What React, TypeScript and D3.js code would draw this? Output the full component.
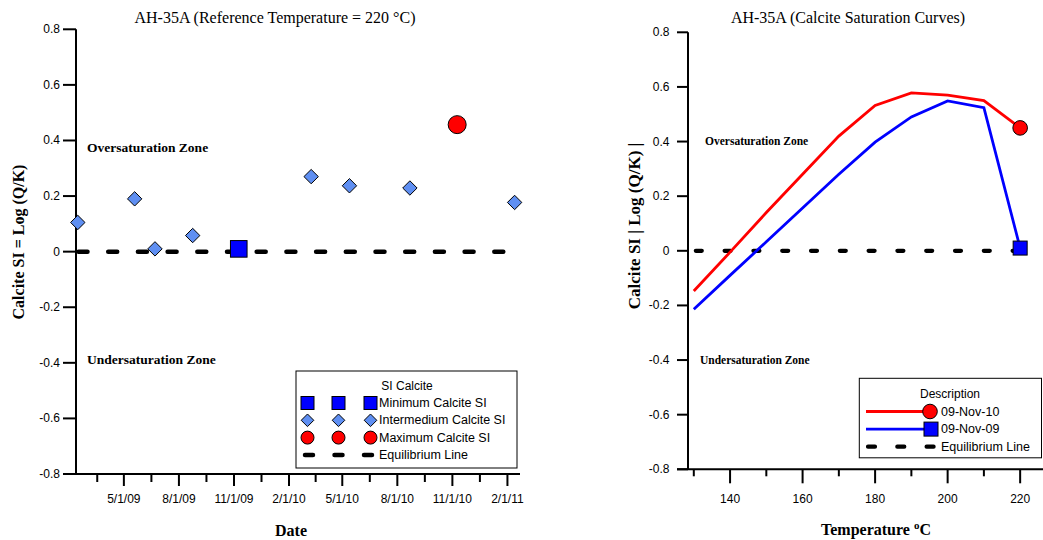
import React from 'react';
import * as d3 from 'd3';

// ---------- Left chart data ----------
const leftTitle = 'AH-35A (Reference Temperature = 220 °C)';
const intermediateDates = ['2009-02-13', '2009-05-19', '2009-06-22', '2009-08-24', '2010-03-10', '2010-05-13', '2010-08-22', '2011-02-13'];
const intermediateSI = [0.105, 0.19, 0.01, 0.058, 0.27, 0.237, 0.229, 0.177];
const minimumDates = ['2009-11-09'];
const minimumSI = [0.01];
const maximumDates = ['2010-11-09'];
const maximumSI = [0.457];
const equilibriumSI = 0;
const dateTickLabels = ['5/1/09', '8/1/09', '11/1/09', '2/1/10', '5/1/10', '8/1/10', '11/1/10', '2/1/11'];
const dateDomain = ['2009-02-10', '2011-02-22'];
const siTicks = [0.8, 0.6, 0.4, 0.2, 0, -0.2, -0.4, -0.6, -0.8];
const leftLegendLabels = ['Minimum Calcite SI', 'Intermedium Calcite SI', 'Maximum Calcite SI', 'Equilibrium Line'];

// ---------- Right chart data ----------
const rightTitle = 'AH-35A (Calcite Saturation Curves)';
const temperatures = [130, 140, 150, 160, 170, 180, 190, 200, 210, 220];
const nov10SI = [-0.147, -0.005, 0.14, 0.28, 0.42, 0.532, 0.578, 0.57, 0.55, 0.45];
const nov09SI = [-0.214, -0.09, 0.033, 0.157, 0.28, 0.398, 0.49, 0.549, 0.524, 0.01];
const tempMajorTicks = [140, 160, 180, 200, 220];
const tempMinorTicks = [130, 150, 170, 190, 210];
const tempDomain = [128.4, 226.3];
const rightLegendLabels = ['09-Nov-10', '09-Nov-09', 'Equilibrium Line'];

const SERIF = '"Liberation Serif", "Times New Roman", serif';
const SANS = '"Liberation Sans", Arial, sans-serif';
const BLUE = '#0000ff';
const RED = '#ff0000';
const LIGHTBLUE = '#5f8ff2';

const parseISO = d3.timeParse('%Y-%m-%d');
const parseTick = d3.timeParse('%m/%d/%y');
const fmtSI = d3.formatLocale({ decimal: '.', thousands: ',', grouping: [3], currency: ['', ''], minus: '-' }).format('.1f');
const siLabel = (t: number) => (t === 0 ? '0' : fmtSI(t));

const diamond = (r: number) => `M0,${-r}L${r},0L0,${r}L${-r},0Z`;

function LeftChart() {
  const x = d3.scaleTime().domain(dateDomain.map((d) => parseISO(d) as Date)).range([76, 520]);
  const y = d3.scaleLinear().domain([-0.8, 0.8]).range([474, 29.3]);
  const majors = dateTickLabels.map((l) => parseTick(l) as Date);
  const minors = majors.map((d) => {
    const prev = d3.timeMonth.offset(d, -3);
    return new Date((prev.getTime() + d.getTime()) / 2);
  });
  const [x0, x1] = x.range();
  const yBase = y.range()[0];
  const inter = intermediateDates.map((d, i) => ({ d: parseISO(d) as Date, v: intermediateSI[i] }));
  const mins = minimumDates.map((d, i) => ({ d: parseISO(d) as Date, v: minimumSI[i] }));
  const maxs = maximumDates.map((d, i) => ({ d: parseISO(d) as Date, v: maximumSI[i] }));

  const lgX = 296, lgY = 371, lgW = 221, lgH = 97;
  const symXs = [307.5, 338.5, 370.5];
  const rowY = (i: number) => 403 + i * 17.3;

  return (
    <g>
      <text x={275} y={23} textAnchor="middle" fontFamily={SERIF} fontSize={16}>{leftTitle}</text>
      <line x1={x0 + 2.5} x2={x1} y1={y(equilibriumSI)} y2={y(equilibriumSI)} stroke="#000" strokeWidth={4.5}
        strokeDasharray="9 20.7" strokeLinecap="round" />
      <line x1={x0} x2={x0} y1={y(0.8)} y2={yBase} stroke="#000" strokeWidth={2} />
      <line x1={63} x2={x1} y1={yBase} y2={yBase} stroke="#000" strokeWidth={2} />
      {siTicks.map((t) => (
        <g key={t}>
          <line x1={63} x2={x0} y1={y(t)} y2={y(t)} stroke="#000" strokeWidth={2} />
          <text x={60} y={y(t)} textAnchor="end" dominantBaseline="central" fontFamily={SANS} fontSize={12}>{siLabel(t)}</text>
        </g>
      ))}
      {majors.map((d, i) => (
        <g key={i}>
          <line x1={x(d)} x2={x(d)} y1={yBase} y2={yBase + 12} stroke="#000" strokeWidth={2} />
          <text x={x(d)} y={503} textAnchor="middle" fontFamily={SANS} fontSize={12}>{dateTickLabels[i]}</text>
        </g>
      ))}
      {minors.filter((d) => x(d) >= x0 && x(d) <= x1).map((d, i) => (
        <line key={i} x1={x(d)} x2={x(d)} y1={yBase} y2={yBase + 8} stroke="#000" strokeWidth={2} />
      ))}
      <text x={291} y={536} textAnchor="middle" fontFamily={SERIF} fontWeight="bold" fontSize={16}>Date</text>
      <text transform="translate(24,242) rotate(-90)" textAnchor="middle" fontFamily={SERIF} fontWeight="bold" fontSize={16}>Calcite SI = Log (Q/K)</text>
      <text x={87} y={151.5} fontFamily={SERIF} fontWeight="bold" fontSize={13.5}>Oversaturation Zone</text>
      <text x={87} y={364} fontFamily={SERIF} fontWeight="bold" fontSize={13.5}>Undersaturation Zone</text>
      {inter.map((p, i) => (
        <path key={i} d={diamond(7.2)} transform={`translate(${x(p.d)},${y(p.v)})`} fill={LIGHTBLUE} stroke="#000" strokeWidth={1} />
      ))}
      {mins.map((p, i) => (
        <rect key={i} x={x(p.d) - 8.3} y={y(p.v) - 8.3} width={16.6} height={16.6} fill={BLUE} stroke="#000" strokeWidth={1} />
      ))}
      {maxs.map((p, i) => (
        <circle key={i} cx={x(p.d)} cy={y(p.v)} r={9} fill={RED} stroke="#000" strokeWidth={1} />
      ))}
      <rect x={lgX} y={lgY} width={lgW} height={lgH} fill="#fff" stroke="#000" strokeWidth={1} />
      <text x={407} y={386} textAnchor="middle" dominantBaseline="central" fontFamily={SANS} fontSize={12}>SI Calcite</text>
      {symXs.map((sx, j) => (
        <g key={j}>
          <rect x={sx - 6.5} y={rowY(0) - 6.5} width={13} height={13} fill={BLUE} stroke="#000" strokeWidth={1} />
          <path d={diamond(6.3)} transform={`translate(${sx},${rowY(1)})`} fill={LIGHTBLUE} stroke="#000" strokeWidth={1} />
          <circle cx={sx} cy={rowY(2)} r={6.5} fill={RED} stroke="#000" strokeWidth={1} />
        </g>
      ))}
      <line x1={305} x2={374} y1={rowY(3)} y2={rowY(3)} stroke="#000" strokeWidth={4.5} strokeDasharray="8 21.5" strokeLinecap="round" />
      {leftLegendLabels.map((l, i) => (
        <text key={l} x={379} y={rowY(i)} dominantBaseline="central" fontFamily={SANS} fontSize={12.5}>{l}</text>
      ))}
    </g>
  );
}

function RightChart() {
  const x = d3.scaleLinear().domain(tempDomain).range([688, 1043]);
  const y = d3.scaleLinear().domain([-0.8, 0.8]).range([469.3, 32.3]);
  const [x0, x1] = x.range();
  const yBase = y.range()[0];
  const line = d3.line<number>().x((_, i) => x(temperatures[i])).y((v) => y(v));
  const tFirst = temperatures[0];
  const tLast = temperatures[temperatures.length - 1];

  const lgX = 859.3, lgY = 378.3, lgW = 182.2, lgH = 79.5;
  const rowY = (i: number) => 411.5 + i * 17.6;

  return (
    <g>
      <text x={848} y={23} textAnchor="middle" fontFamily={SERIF} fontSize={16}>{rightTitle}</text>
      <line x1={x(tFirst) + 2} x2={x(tLast) + 2} y1={y(equilibriumSI)} y2={y(equilibriumSI)} stroke="#000" strokeWidth={4.2}
        strokeDasharray="6 22.8" strokeLinecap="round" />
      <path d={line(nov10SI) || ''} fill="none" stroke={RED} strokeWidth={2.8} />
      <path d={line(nov09SI) || ''} fill="none" stroke={BLUE} strokeWidth={2.8} />
      <circle cx={x(tLast)} cy={y(nov10SI[nov10SI.length - 1])} r={7.3} fill={RED} stroke="#000" strokeWidth={1} />
      <rect x={x(tLast) - 7} y={y(nov09SI[nov09SI.length - 1]) - 7} width={14} height={14} fill={BLUE} stroke="#000" strokeWidth={1} />
      <line x1={x0} x2={x0} y1={y(0.8)} y2={yBase} stroke="#000" strokeWidth={2} />
      <line x1={677} x2={x1} y1={yBase} y2={yBase} stroke="#000" strokeWidth={2} />
      {siTicks.map((t) => (
        <g key={t}>
          <line x1={677} x2={x0} y1={y(t)} y2={y(t)} stroke="#000" strokeWidth={2} />
          <text x={669.5} y={y(t)} textAnchor="end" dominantBaseline="central" fontFamily={SANS} fontSize={12}>{siLabel(t)}</text>
        </g>
      ))}
      {tempMajorTicks.map((t) => (
        <g key={t}>
          <line x1={x(t)} x2={x(t)} y1={yBase} y2={yBase + 14} stroke="#000" strokeWidth={2} />
          <text x={x(t)} y={503} textAnchor="middle" fontFamily={SANS} fontSize={12}>{t}</text>
        </g>
      ))}
      {tempMinorTicks.map((t) => (
        <line key={t} x1={x(t)} x2={x(t)} y1={yBase} y2={yBase + 7} stroke="#000" strokeWidth={2} />
      ))}
      <text x={876} y={535} textAnchor="middle" fontFamily={SERIF} fontWeight="bold" fontSize={16}>
        Temperature <tspan fontSize={11} dy={-6}>o</tspan><tspan dy={6}>C</tspan>
      </text>
      <text transform="translate(640,226) rotate(-90)" textAnchor="middle" fontFamily={SERIF} fontWeight="bold" fontSize={17}>Calcite SI | Log (Q/K) |</text>
      <text x={705} y={145} fontFamily={SERIF} fontWeight="bold" fontSize={11.5}>Oversaturation Zone</text>
      <text x={700} y={363.5} fontFamily={SERIF} fontWeight="bold" fontSize={11.5}>Undersaturation Zone</text>
      <rect x={lgX} y={lgY} width={lgW} height={lgH} fill="#fff" stroke="#000" strokeWidth={1} />
      <text x={950} y={393.5} textAnchor="middle" dominantBaseline="central" fontFamily={SANS} fontSize={12}>Description</text>
      <line x1={866} x2={930} y1={rowY(0)} y2={rowY(0)} stroke={RED} strokeWidth={2.8} />
      <circle cx={930} cy={rowY(0)} r={7.3} fill={RED} stroke="#000" strokeWidth={1} />
      <line x1={866} x2={930} y1={rowY(1)} y2={rowY(1)} stroke={BLUE} strokeWidth={2.8} />
      <rect x={924} y={rowY(1) - 7} width={14} height={14} fill={BLUE} stroke="#000" strokeWidth={1} />
      <line x1={868} x2={934} y1={rowY(2)} y2={rowY(2)} stroke="#000" strokeWidth={4.2} strokeDasharray="7 22.3" strokeLinecap="round" />
      {rightLegendLabels.map((l, i) => (
        <text key={l} x={941} y={rowY(i)} dominantBaseline="central" fontFamily={SANS} fontSize={12.5}>{l}</text>
      ))}
    </g>
  );
}

export default function App() {
  return (
    <svg width={1043} height={540} style={{ position: 'absolute', left: 0, top: 0, background: '#fff' }}>
      <rect x={0} y={0} width={1043} height={540} fill="#fff" />
      <LeftChart />
      <RightChart />
    </svg>
  );
}
